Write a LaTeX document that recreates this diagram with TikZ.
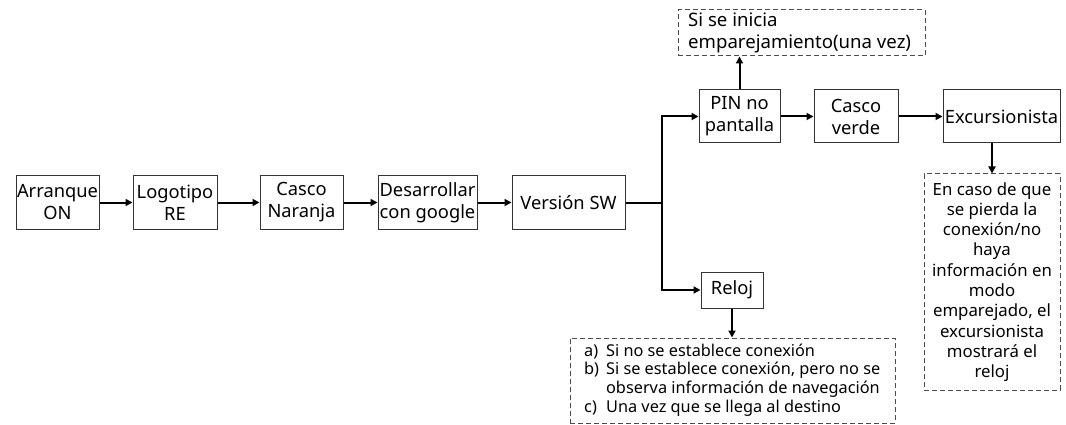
\documentclass[tikz,border=0pt]{standalone}
\usepackage{fontspec}
\setmainfont{Noto Sans}
\usetikzlibrary{arrows.meta}
\begin{document}
\begin{tikzpicture}[x=1pt,y=-1pt,
  box/.style={draw=black!80,line width=1pt,inner sep=0pt,align=center,minimum height=53pt,
    font=\fontsize{18.3}{22}\selectfont},
  dbox/.style={draw=black!70,line width=1pt,dash pattern=on 5pt off 3pt,inner sep=0pt},
  conn/.style={line width=2pt,-{Triangle[length=7pt,width=7pt]}},
  txt/.style={inner sep=0pt}]
\useasboundingbox (0,0) rectangle (1066,425);
% main row
\node[box,minimum width=83pt] (arr) at (57.5,202.5) {Arranque\\ON};
\node[box,minimum width=84pt] (logo) at (175,202.5) {Logotipo\\RE};
\node[box,minimum width=83pt] (cn) at (301.5,202.5) {Casco\\Naranja};
\node[box,minimum width=99pt] (des) at (427.5,202.5) {Desarrollar\\con google};
\node[box,minimum width=113pt] (ver) at (568.5,202.5) {Versión SW};
% upper row
\node[box,minimum width=81pt] (pin) at (739.5,116.5) {PIN no\\pantalla};
\node[box,minimum width=84pt] (cv) at (856,116.5) {Casco\\verde};
\node[box,minimum width=117pt] (exc) at (1001.5,116.5) {Excursionista};
% reloj
\node[box,minimum width=62pt,minimum height=36pt] (rel) at (732,290) {Reloj};
% dashed notes
\node[dbox,minimum width=247pt,minimum height=46pt] (td) at (801.5,33) {};
\node[txt,anchor=west,align=left,font=\fontsize{18.6}{21.5}\selectfont] (tdt) at (688,33) {Si se inicia\\emparejamiento(una vez)};
\node[dbox,minimum width=325pt,minimum height=85pt] (bd) at (732.5,380.5) {};
\node[txt,anchor=west,font=\fontsize{16.3}{18.7}\selectfont] (bdt) at (584,380.5) {%
\begin{tabular}{@{}l@{\hspace{7pt}}l@{}}
a) & Si no se establece conexión\\
b) & Si se establece conexión, pero no se\\
   & observa información de navegación\\
c) & Una vez que se llega al destino
\end{tabular}};
\node[dbox,minimum width=136pt,minimum height=216pt] (ed) at (992,282) {};
\node[txt,align=center,font=\fontsize{16.8}{20.3}\selectfont] (edt) at (992,282) {En caso de que\\se pierda la\\conexión/no\\haya\\información en\\modo\\emparejado, el\\excursionista\\mostrará el\\reloj};
% connectors
\coordinate (split) at (662,202.5);
\draw[conn] (arr) -- (logo);
\draw[conn] (logo) -- (cn);
\draw[conn] (cn) -- (des);
\draw[conn] (des) -- (ver);
\draw[line width=2pt] (ver.east) -- (split);
\draw[conn] (split) |- (pin.west);
\draw[conn] (split) |- (rel.west);
\draw[conn] (pin) -- (cv);
\draw[conn] (cv) -- (exc);
\draw[conn] (pin.north) -- (pin.north |- td.south);
\draw[conn] (rel.south) -- (rel.south |- bd.north);
\draw[conn] (ed.north |- exc.south) -- (ed.north);
\end{tikzpicture}
\end{document}
